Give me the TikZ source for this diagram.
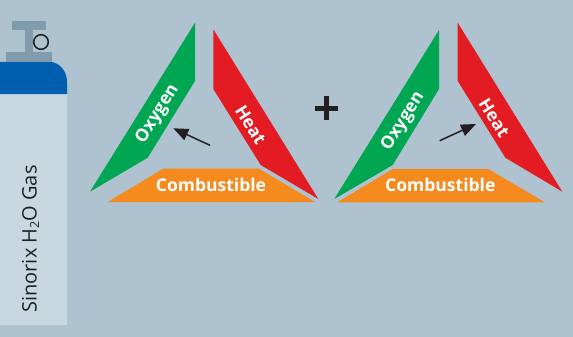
\documentclass[tikz,border=0pt]{standalone}
\usepackage{fontspec}
\setmainfont{Open Sans}
\usetikzlibrary{arrows.meta}
\definecolor{bg}{HTML}{AEC3CF}
\definecolor{body}{HTML}{C8D8E1}
\definecolor{valve}{HTML}{7F9BAC}
\definecolor{capblue}{HTML}{005FAE}
\definecolor{gr}{HTML}{00A651}
\definecolor{rd}{HTML}{E31B23}
\definecolor{og}{HTML}{F58A1F}
\definecolor{ink}{HTML}{231F20}
\tikzset{
  lab/.style={text=white,font=\bfseries\fontsize{17.5}{18}\selectfont,inner sep=0pt},
  arr/.style={draw=ink,line width=1.5pt,-{Triangle[length=15pt,width=12pt]}}
}
\begin{document}
\begin{tikzpicture}[x=1pt,y=-1pt]
\useasboundingbox (0,0) rectangle (573,337);
\fill[bg] (0,0) rectangle (573,337);
% cylinder
\fill[body] (0,94) rectangle (67,325);
\fill[capblue] (0,62) -- (52,62) .. controls (61,64) and (67,72) .. (67,82) -- (67,94) -- (0,94) -- cycle;
\fill[valve] (12,21) rectangle (46,30);
\fill[valve] (25,30) rectangle (33,52);
\fill[valve] (6,52) rectangle (52,62.5);
\draw[ink,line width=1.5pt] (41,42) circle (7.3);
\node[rotate=90,inner sep=0pt,text=ink,font=\fontsize{20}{21}\selectfont] (gas) at (30.5,239) {Sinorix H\raisebox{-2.5pt}{\fontsize{12.5}{13}\selectfont 2}O Gas};
% left triangle
\fill[gr] (195,22.7) -- (195,81) -- (147.7,157.7) -- (90,191.7) -- cycle;
\fill[rd] (213.3,29.3) -- (213.3,89) -- (260.7,165) -- (318.3,199) -- cycle;
\fill[og] (107.7,202) -- (163.3,168.7) -- (259,168.7) -- (315,202) -- cycle;
\node[lab,rotate=58] (oxyL) at (157.7,114) {Oxygen};
\node[lab,rotate=-58] (heatL) at (250.7,125) {Heat};
\node[lab] (combL) at (211,185) {Combustible};
\coordinate (a1s) at (210,145.3);
\coordinate (a1e) at (173.3,128.3);
\draw[arr] (a1s) -- (a1e);
% plus
\node[inner sep=0pt] (plus) at (326.7,108) {};
\fill[ink] (315,105.5) rectangle (338.4,110.5);
\fill[ink] (324.2,96) rectangle (329.2,120);
% right triangle
\fill[gr] (439,30) -- (439,89) -- (392.7,165) -- (334.3,199) -- cycle;
\fill[rd] (457.7,22.7) -- (457.7,81) -- (505.3,157.7) -- (562.3,191.7) -- cycle;
\fill[og] (337.3,202.3) -- (392.7,169) -- (488.3,169) -- (545,202.3) -- cycle;
\node[lab,rotate=58] (oxyR) at (403.3,121.5) {Oxygen};
\node[lab,rotate=-58] (heatR) at (494.3,118) {Heat};
\node[lab] (combR) at (440.3,185) {Combustible};
\coordinate (a2s) at (439.7,140.7);
\coordinate (a2e) at (476,124);
\draw[arr] (a2s) -- (a2e);
\end{tikzpicture}
\end{document}
